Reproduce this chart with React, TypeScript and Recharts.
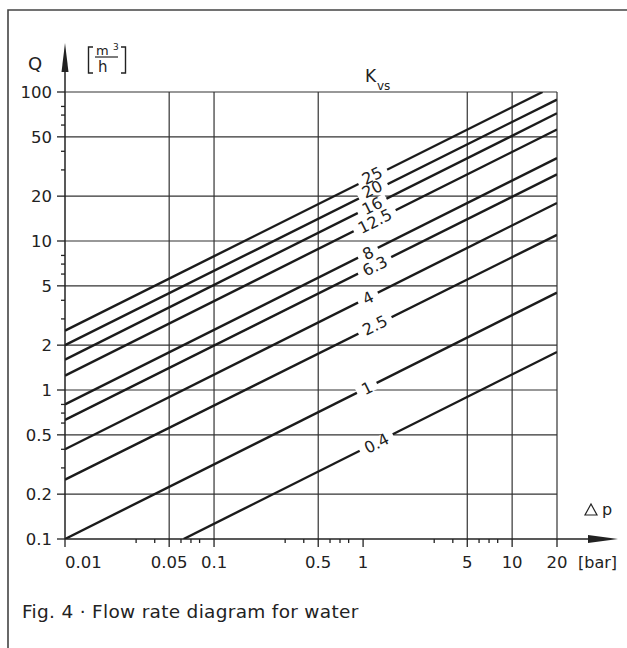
import React from "react";
import { LineChart, Line, XAxis, YAxis, ReferenceLine, ReferenceDot } from "recharts";

// Kvs lines, end points (dp in bar, q in m3/h)
const kvsNames = ["25", "20", "16", "12.5", "8", "6.3", "4", "2.5", "1", "0.4"];
const kvs25 = [{ dp: 0.01, q: 2.5 }, { dp: 16, q: 100 }];
const kvs20 = [{ dp: 0.01, q: 2.0 }, { dp: 20, q: 89 }];
const kvs16 = [{ dp: 0.01, q: 1.6 }, { dp: 20, q: 72 }];
const kvs125 = [{ dp: 0.01, q: 1.25 }, { dp: 20, q: 56 }];
const kvs8 = [{ dp: 0.01, q: 0.8 }, { dp: 20, q: 36 }];
const kvs63 = [{ dp: 0.01, q: 0.63 }, { dp: 20, q: 28 }];
const kvs4 = [{ dp: 0.01, q: 0.4 }, { dp: 20, q: 18 }];
const kvs25b = [{ dp: 0.01, q: 0.25 }, { dp: 20, q: 11 }];
const kvs1 = [{ dp: 0.01, q: 0.1 }, { dp: 20, q: 4.5 }];
const kvs04 = [{ dp: 0.0625, q: 0.1 }, { dp: 20, q: 1.8 }];
const kvsLines = [kvs25, kvs20, kvs16, kvs125, kvs8, kvs63, kvs4, kvs25b, kvs1, kvs04];

// where the Kvs labels sit on each line
const labelDp = [1.15, 1.15, 1.15, 1.2, 1.08, 1.2, 1.08, 1.2, 1.06, 1.23];
const labelQ = [27.5, 22.3, 17.2, 13.6, 8.3, 6.8, 4.15, 2.72, 1.03, 0.44];

const xMajor = [0.01, 0.05, 0.1, 0.5, 1, 5, 10, 20];
const xMinor = [0.03, 0.04, 0.06, 0.07, 0.08, 0.3, 0.4, 0.6, 0.7, 0.8, 3, 4, 6, 7, 8];
const yMajor = [0.1, 0.2, 0.5, 1, 2, 5, 10, 20, 50, 100];
const yMinor = [0.3, 0.4, 0.6, 0.7, 0.8, 3, 4, 6, 7, 8, 30, 40, 60, 70, 80];
const xGrid = [0.05, 0.1, 0.5, 5, 10, 20];
const yGrid = [0.2, 0.5, 1, 2, 5, 10, 20, 50, 100];

const FONT = "'DejaVu Sans', Lato, sans-serif";
const INK = "#222";
const ANGLE = -26.57;

function XTick(props: any) {
  const { x, y, payload } = props;
  const v = payload.value;
  const major = xMajor.includes(v);
  const top = y - 8;
  return (
    <g>
      <line x1={x} x2={x} y1={top} y2={top + (major ? 8 : 4)} stroke={INK} strokeWidth={1.3} />
      {major && (
        <text
          x={x}
          y={top + 29}
          textAnchor={v === 0.01 ? "start" : "middle"}
          fontSize={16.5}
          fontFamily={FONT}
          fill={INK}
        >
          {String(v)}
        </text>
      )}
    </g>
  );
}

function YTick(props: any) {
  const { x, y, payload } = props;
  const v = payload.value;
  const major = yMajor.includes(v);
  const right = x + 8;
  return (
    <g>
      <line x1={right} x2={right - (major ? 8 : 4)} y1={y} y2={y} stroke={INK} strokeWidth={1.3} />
      {major && (
        <text x={x - 5} y={y} dy="0.36em" textAnchor="end" fontSize={16.5} fontFamily={FONT} fill={INK}>
          {String(v)}
        </text>
      )}
    </g>
  );
}

function KvsLabel(props: any) {
  const { cx, cy, text } = props;
  if (cx == null || cy == null) return null;
  const digits = text.replace(".", "").length;
  const w = digits * 10 + (text.includes(".") ? 5 : 0) + 12;
  return (
    <g transform={`translate(${cx},${cy}) rotate(${ANGLE})`}>
      <rect x={-w / 2} y={-5.5} width={w} height={11} fill="#fff" />
      <text x={0} y={0} dy="0.36em" textAnchor="middle" fontSize={16} fontFamily={FONT} fill={INK}>
        {text}
      </text>
    </g>
  );
}

export default function App() {
  return (
    <div style={{ position: "absolute", left: 0, top: 0, width: 627, height: 648, background: "#fff", overflow: "hidden" }}>
      <svg width={627} height={648} style={{ position: "absolute", left: 0, top: 0 }}>
        <path d="M 8 648 L 8 10 L 627 10" stroke="#444" strokeWidth={1.6} fill="none" />
        {/* y axis arrow */}
        <line x1={65} x2={65} y1={92} y2={60} stroke={INK} strokeWidth={1.5} />
        <polygon points="65,43 61.5,72 68.5,72" fill={INK} />
        {/* x axis arrow */}
        <line x1={557} x2={595} y1={539} y2={539} stroke={INK} strokeWidth={1.5} />
        <polygon points="618,539 588,535 588,543" fill={INK} />
        <text x={35} y={70} textAnchor="middle" fontSize={18} fontFamily={FONT} fill={INK}>Q</text>
        <path d="M 93 47 L 88.5 47 L 88.5 73 L 93 73" stroke={INK} strokeWidth={1.4} fill="none" />
        <path d="M 121 47 L 125.5 47 L 125.5 73 L 121 73" stroke={INK} strokeWidth={1.4} fill="none" />
        <text x={96} y={55} fontSize={13} fontFamily={FONT} fill={INK}>m</text>
        <text x={113} y={50} fontSize={9} fontFamily={FONT} fill={INK}>3</text>
        <line x1={95} x2={118} y1={57} y2={57} stroke={INK} strokeWidth={1.2} />
        <text x={98} y={72} fontSize={15} fontFamily={FONT} fill={INK}>h</text>
        <text x={365} y={82} fontSize={17} fontFamily={FONT} fill={INK}>K</text>
        <text x={377} y={90} fontSize={12} fontFamily={FONT} fill={INK}>vs</text>
        <polygon points="585,515 597,515 591,504" fill="none" stroke={INK} strokeWidth={1.2} />
        <text x={602} y={515} fontSize={16} fontFamily={FONT} fill={INK}>p</text>
        <text x={578} y={568} fontSize={16} fontFamily={FONT} fill={INK}>[bar]</text>
        <text x={22} y={618} fontSize={18.5} letterSpacing={0.3} fontFamily={FONT} fill={INK}>
          Fig. 4 · Flow rate diagram for water
        </text>
      </svg>
      <div style={{ position: "absolute", left: 0, top: 0 }}>
        <LineChart width={627} height={648} margin={{ top: 92, right: 70, bottom: 79, left: 15 }}>
          <XAxis
            dataKey="dp"
            type="number"
            scale="log"
            domain={[0.01, 20]}
            allowDataOverflow
            ticks={[...xMajor, ...xMinor].sort((a, b) => a - b)}
            interval={0}
            tickSize={8}
            tickMargin={0}
            tickLine={false}
            tick={<XTick />}
            axisLine={{ stroke: INK, strokeWidth: 1.5 }}
            height={30}
          />
          <YAxis
            type="number"
            scale="log"
            domain={[0.1, 100]}
            allowDataOverflow
            ticks={[...yMajor, ...yMinor].sort((a, b) => a - b)}
            interval={0}
            tickSize={8}
            tickMargin={0}
            tickLine={false}
            tick={<YTick />}
            axisLine={{ stroke: INK, strokeWidth: 1.5 }}
            width={50}
          />
          {xGrid.map((v) => (
            <ReferenceLine key={"vx" + v} x={v} stroke="#333" strokeWidth={1.2} />
          ))}
          {yGrid.map((v) => (
            <ReferenceLine key={"hy" + v} y={v} stroke="#333" strokeWidth={1.2} />
          ))}
          {kvsLines.map((pts, i) => (
            <Line
              key={kvsNames[i]}
              data={pts}
              dataKey="q"
              type="linear"
              dot={false}
              activeDot={false}
              stroke="#1b1b1b"
              strokeWidth={2.4}
              isAnimationActive={false}
            />
          ))}
          {kvsNames.map((name, i) => (
            <ReferenceDot
              key={"lab" + name}
              x={labelDp[i]}
              y={labelQ[i]}
              r={0}
              shape={(p: any) => <KvsLabel {...p} text={name} />}
            />
          ))}
        </LineChart>
      </div>
    </div>
  );
}
